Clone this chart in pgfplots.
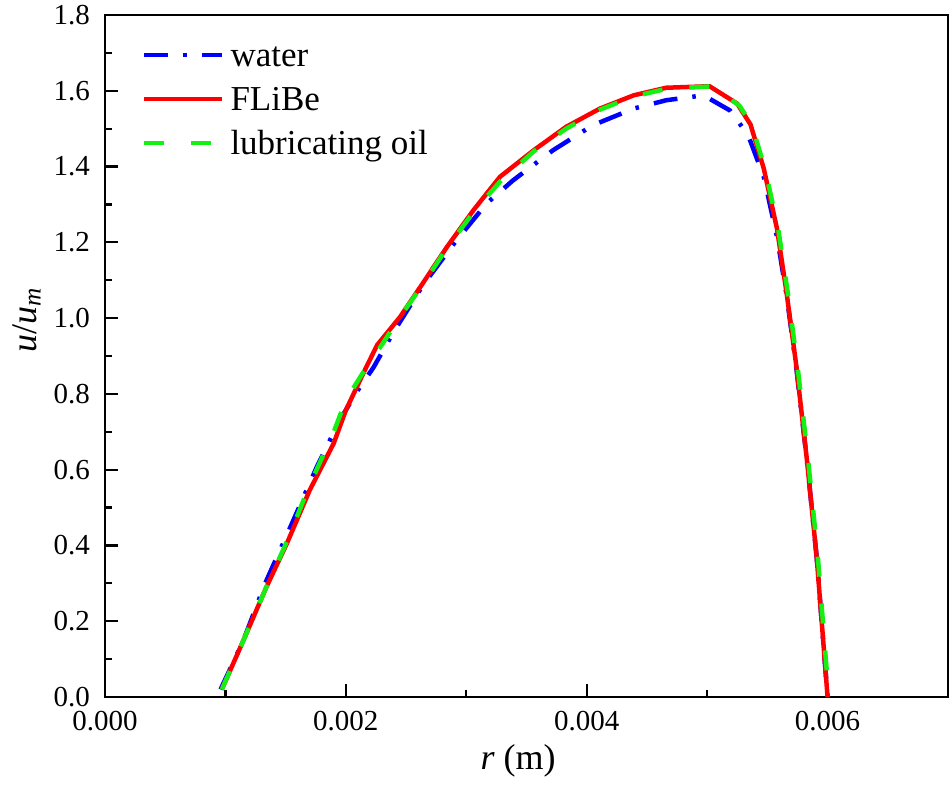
\documentclass[border=0pt]{standalone}
\usepackage{pgfplots}
\pgfplotsset{compat=1.18}
\usepackage{fontspec}
\setmainfont{Liberation Serif}
\definecolor{cwater}{RGB}{0,0,255}
\definecolor{cfli}{RGB}{255,0,0}
\definecolor{coil}{RGB}{20,240,20}
\pgfplotstableread{
r u
0.00096 0.02
0.00115 0.15
0.00133 0.30
0.00154 0.449
0.00176 0.608
0.00195 0.731
0.00210 0.81
0.00223 0.870
0.00239 0.96
0.00264 1.087
0.00292 1.206
0.00317 1.303
0.00339 1.364
0.00372 1.443
0.00405 1.509
0.00439 1.553
0.00466 1.575
0.00497 1.588
0.00519 1.548
0.00534 1.483
0.00547 1.373
0.00558 1.215
0.00566 1.06
0.00574 0.87
0.00583 0.62
0.00591 0.367
0.00600 0.0
}\water
\pgfplotstableread{
r u
0.00097 0.02
0.00115 0.15
0.00134 0.29
0.00151 0.405
0.00170 0.546
0.00190 0.67
0.00200 0.757
0.00217 0.871
0.00226 0.929
0.00245 1.003
0.00262 1.083
0.00284 1.188
0.00306 1.285
0.00328 1.373
0.00356 1.443
0.00383 1.505
0.00411 1.553
0.00439 1.588
0.00466 1.608
0.00502 1.612
0.00525 1.566
0.00536 1.511
0.00547 1.395
0.00558 1.236
0.00566 1.066
0.00574 0.875
0.00583 0.621
0.00591 0.367
0.00600 0.0
}\flibe
\pgfplotstableread{
r u
0.00097 0.02
0.00115 0.15
0.00134 0.29
0.00151 0.41
0.00170 0.56
0.00190 0.70
0.00200 0.784
0.00217 0.87
0.00230 0.93
0.00245 1.003
0.00262 1.08
0.00284 1.185
0.00306 1.28
0.00328 1.36
0.00356 1.44
0.00383 1.50
0.00411 1.55
0.00439 1.585
0.00466 1.605
0.00505 1.612
0.00527 1.56
0.00537 1.51
0.00548 1.395
0.00559 1.236
0.00567 1.066
0.00575 0.875
0.00584 0.621
0.00592 0.367
0.00601 0.0
}\oil
\begin{document}
\begin{tikzpicture}
\useasboundingbox (-105bp,-89bp) rectangle (847bp,697bp);
\begin{axis}[
  at={(0,0)}, anchor=south west,
  scale only axis, width=843bp, height=682bp,
  xmin=0, xmax=0.007, ymin=0, ymax=1.8,
  axis line style={line width=2.6bp},
  tick style={line width=2.2bp, black},
  major tick length=13bp, minor tick length=7bp,
  tick align=inside, xtick pos=bottom, ytick pos=left,
  xtick={0,0.002,0.004,0.006}, minor x tick num=1,
  ytick={0,0.2,0.4,0.6,0.8,1.0,1.2,1.4,1.6,1.8}, minor y tick num=1,
  scaled x ticks=false, scaled y ticks=false,
  x tick label style={/pgf/number format/fixed, /pgf/number format/fixed zerofill, /pgf/number format/precision=3, /pgf/number format/assume math mode=true, font=\fontsize{29bp}{34bp}\selectfont, inner sep=0pt, anchor=north, yshift=-14bp},
  y tick label style={/pgf/number format/fixed, /pgf/number format/fixed zerofill, /pgf/number format/precision=1, /pgf/number format/assume math mode=true, font=\fontsize{29bp}{34bp}\selectfont, inner sep=0pt, anchor=east, xshift=-15bp},
  xlabel={\textit{r} (m)},
  ylabel={\textit{u}/\textit{u}\textsubscript{\textit{m}}},
  every axis x label/.style={at={(axis description cs:0.49,-0.1056)}, anchor=base, font=\fontsize{36bp}{42bp}\selectfont},
  every axis y label/.style={at={(axis description cs:-0.0807,0.553)}, rotate=90, anchor=base, font=\fontsize{36bp}{42bp}\selectfont},
  legend image code/.code={\draw[#1] (0bp,0bp) -- (78bp,0bp);},
  legend cell align=left,
  legend style={at={(axis description cs:0.0439,0.9736)}, anchor=north west, draw=none, fill=none, inner sep=0pt, outer sep=0pt, column sep=6bp, row sep=0pt, font=\fontsize{35bp}{40bp}\selectfont, nodes={inner sep=0pt, text height=34bp, text depth=10bp}},
]
\addplot[cwater, line width=4.5bp, line join=round, dash pattern=on 24bp off 15bp on 3.5bp off 15.5bp] table[x=r,y=u] {\water};
\addlegendentry{water}
\addplot[cfli, line width=4.5bp, line join=round] table[x=r,y=u] {\flibe};
\addlegendentry{FLiBe}
\addplot[coil, line width=4.5bp, line join=round, dash pattern=on 20bp off 27bp] table[x=r,y=u] {\oil};
\addlegendentry{lubricating oil}
\end{axis}
\end{tikzpicture}
\end{document}
